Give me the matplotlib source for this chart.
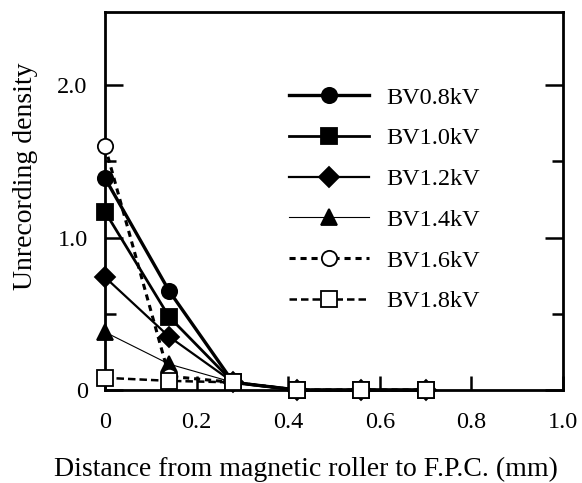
import matplotlib
matplotlib.use("Agg")
import matplotlib.pyplot as plt
from matplotlib.ticker import FixedLocator

plt.rcParams['font.family'] = ['Liberation Serif', 'DejaVu Serif']

distance = [0.0, 0.14, 0.28, 0.42, 0.56, 0.70]
labels = ["BV0.8kV", "BV1.0kV", "BV1.2kV", "BV1.4kV", "BV1.6kV", "BV1.8kV"]
bv08 = [1.39, 0.65, 0.05, 0.0, 0.0, 0.0]
bv10 = [1.17, 0.48, 0.05, 0.0, 0.0, 0.0]
bv12 = [0.74, 0.35, 0.05, 0.0, 0.0, 0.0]
bv14 = [0.38, 0.17, 0.05, 0.0, 0.0, 0.0]
bv16 = [1.60, 0.09, 0.05, 0.0, 0.0, 0.0]
bv18 = [0.08, 0.06, 0.05, 0.0, 0.0, 0.0]
xticks = [0, 0.2, 0.4, 0.6, 0.8, 1.0]
xticklabels = ["0", "0.2", "0.4", "0.6", "0.8", "1.0"]
yticks = [0, 1.0, 2.0]
yticklabels = ["0", "1.0", "2.0"]

fig = plt.figure(figsize=(5.82, 4.83), dpi=100)
ax = fig.add_axes([105/582, 1-390/483, 458/582, 378/483])

series = [bv08, bv10, bv12, bv14, bv16, bv18]
styles = [
    dict(marker='o', ls='-', lw=2.4, mfc='black', ms=11),
    dict(marker='s', ls='-', lw=2.0, mfc='black', ms=11),
    dict(marker='D', ls='-', lw=1.6, mfc='black', ms=10),
    dict(marker='^', ls='-', lw=0.8, mfc='black', ms=11),
    dict(marker='o', ls=(0, (2, 1.6)), lw=2.2, mfc='white', ms=11),
    dict(marker='s', ls=(0, (3, 1.6)), lw=1.8, mfc='white', ms=11),
]
for i, (vals, lab, st) in enumerate(zip(series, labels, styles)):
    ax.plot(distance, vals, color='black', mec='black', mew=1.3,
            label=lab, clip_on=False, zorder=3 + i, **st)

ax.set_xlim(0, 1.0)
ax.set_ylim(0, 2.48)
ax.set_xticks(xticks)
ax.set_xticklabels(xticklabels)
ax.set_yticks(yticks)
ax.set_yticklabels(yticklabels)
ax.yaxis.set_minor_locator(FixedLocator([0.5, 1.5]))
ax.tick_params(axis='both', which='major', direction='in', length=13, width=1.8,
               labelsize=17.5, top=False, right=True)
ax.tick_params(axis='y', which='major', pad=12.5)
ax.tick_params(axis='x', which='major', length=10, pad=16)
ax.tick_params(axis='y', which='minor', direction='in', length=8, width=1.8,
               right=True)
for s in ax.spines.values():
    s.set_linewidth(2.0)

ax.set_xlabel("Distance from magnetic roller to F.P.C. (mm)", fontsize=20)
ax.xaxis.set_label_coords((306-105)/458, (390-469)/378)
ax.xaxis.label.set_verticalalignment('center')
ax.set_ylabel("Unrecording density", fontsize=20)
ax.yaxis.set_label_coords((26-105)/458, (390-176)/378)
ax.yaxis.label.set_verticalalignment('center')

leg = ax.legend(loc='upper left', bbox_to_anchor=(0.38, 0.828), frameon=False,
                fontsize=17.5, handlelength=3.3, handletextpad=0.7,
                labelspacing=0.77, borderaxespad=0)

fig.savefig("out.png", dpi=100)
